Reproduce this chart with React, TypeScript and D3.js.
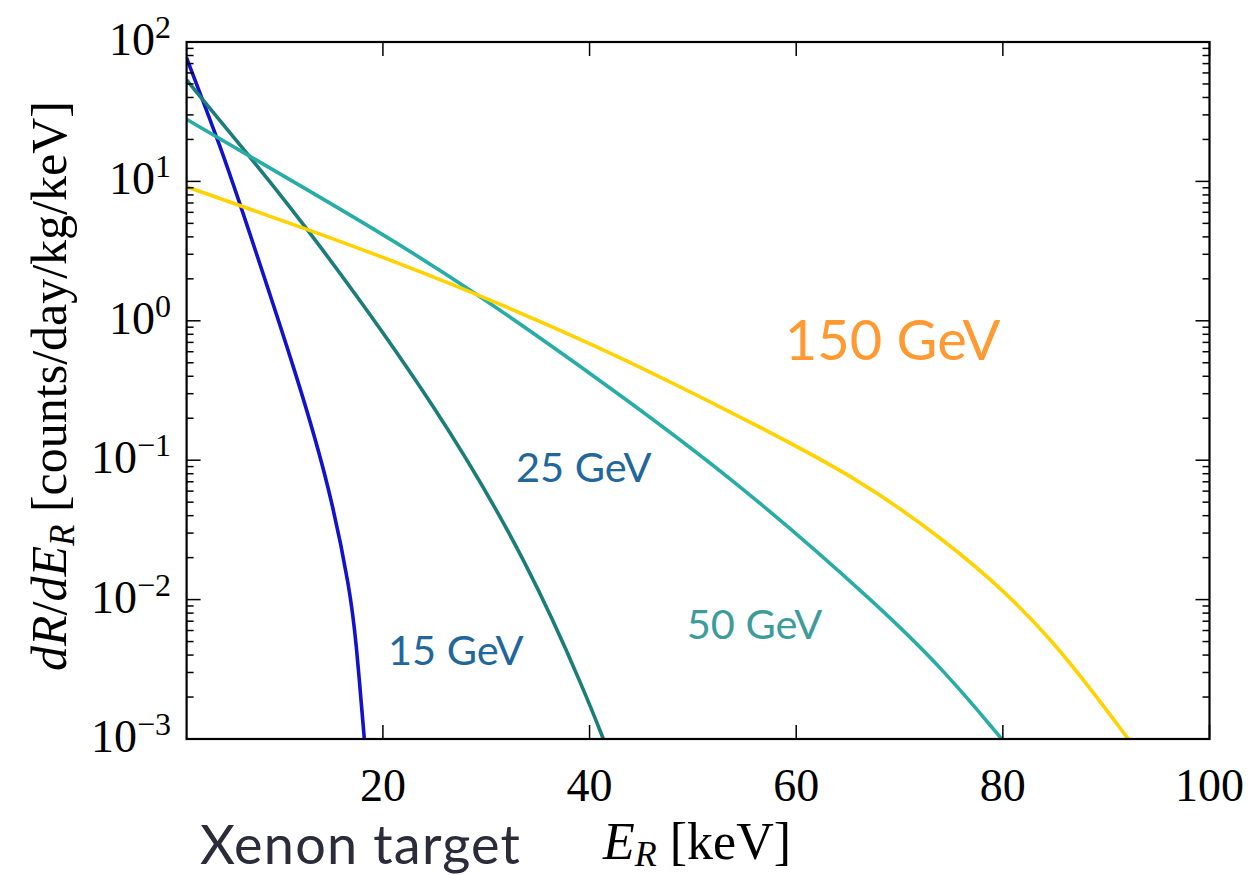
import React from "react";
import * as d3 from "d3";

// Differential recoil rate on a xenon target, one curve per WIMP mass.
const energy15 = [1, 4.4, 6.27, 11.98, 14.88, 16.82, 17.4, 18.2];
const rate15 = [76.8, 16.8, 6.55, 0.346, 0.0611, 0.0117, 0.00513, 0.001];

const energy25 = [1, 7.14, 12.94, 25.53, 34.24, 39.75, 41.33];
const rate25 = [53.4, 14.96, 4.41, 0.2254, 0.01714, 0.002, 0.001];

const energy50 = [1, 7.14, 19.72, 29.08, 41.01, 53.91, 68.12, 74.57, 79.89];
const rate50 = [27.9, 15.09, 4.335, 1.575, 0.376, 0.0742, 0.00889, 0.00296, 0.001];

const energy150 = [1, 12.94, 25.53, 41.01, 53.91, 65.86, 74.57, 80.37, 84.88, 89.08, 92.14];
const rate150 = [9.16, 4.48, 2.018, 0.652, 0.217, 0.0758, 0.026, 0.01115, 0.00499, 0.00201, 0.001];

const seriesColors = ["#1212cc", "#1b7d79", "#27ada6", "#ffd200"];

const xTickValues = [20, 40, 60, 80, 100];
const yExponents = [2, 1, 0, -1, -2, -3];

const massLabels = [
  { text: "150 GeV", e: 58.9, v: 0.523, size: 56, color: "#ff9a33" },
  { text: "25 GeV", e: 32.87, v: 0.0698, size: 41.5, color: "#21679b" },
  { text: "15 GeV", e: 20.49, v: 0.0034, size: 41.5, color: "#21679b" },
  { text: "50 GeV", e: 49.4, v: 0.0052, size: 41.5, color: "#3d9c9b" },
];

export default function App() {
  const W = 1250;
  const H = 875;
  const x = d3.scaleLinear().domain([1, 100]).range([186.6, 1209.5]);
  const y = d3.scaleLog().domain([1e-3, 1e2]).range([739, 42]);
  const [x0, x1] = x.range();
  const [y0, y1] = y.range();

  const series = [
    { e: energy15, r: rate15 },
    { e: energy25, r: rate25 },
    { e: energy50, r: rate50 },
    { e: energy150, r: rate150 },
  ].map((s, i) => ({
    points: s.e.map((e, j) => [e, s.r[j]] as [number, number]),
    color: seriesColors[i],
  }));

  const line = d3
    .line<[number, number]>()
    .x((d) => x(d[0]))
    .y((d) => y(d[1]))
    .curve(d3.curveBasis);

  const minorValues: number[] = [];
  for (let d = -3; d < 2; d++) {
    for (let k = 2; k <= 9; k++) minorValues.push(k * Math.pow(10, d));
  }

  const serif = "'Liberation Serif', 'DejaVu Serif', serif";
  const sans = "Lato, 'Open Sans', sans-serif";
  const majorLen = 14;
  const minorLen = 7;

  return (
    <svg
      width={W}
      height={H}
      viewBox={`0 0 ${W} ${H}`}
      style={{ position: "absolute", left: 0, top: 0, background: "#fff" }}
    >
      <defs>
        <clipPath id="plot-area">
          <rect x={x0} y={y1} width={x1 - x0} height={y0 - y1} />
        </clipPath>
      </defs>

      <g clipPath="url(#plot-area)">
        {series.map((s, i) => (
          <path
            key={i}
            d={line(s.points) || ""}
            fill="none"
            stroke={s.color}
            strokeWidth={3.6}
            strokeLinejoin="round"
          />
        ))}
      </g>

      {/* ticks on all four sides, pointing inward */}
      <g stroke="#000" strokeWidth={1.5}>
        {yExponents.map((p) => {
          const yy = y(Math.pow(10, p));
          return (
            <g key={p}>
              <line x1={x0} x2={x0 + majorLen} y1={yy} y2={yy} />
              <line x1={x1} x2={x1 - majorLen} y1={yy} y2={yy} />
            </g>
          );
        })}
        {minorValues.map((v, i) => {
          const yy = y(v);
          return (
            <g key={i}>
              <line x1={x0} x2={x0 + minorLen} y1={yy} y2={yy} />
              <line x1={x1} x2={x1 - minorLen} y1={yy} y2={yy} />
            </g>
          );
        })}
        {xTickValues.map((t) => {
          const xx = x(t);
          return (
            <g key={t}>
              <line x1={xx} x2={xx} y1={y0} y2={y0 - majorLen} />
              <line x1={xx} x2={xx} y1={y1} y2={y1 + majorLen} />
            </g>
          );
        })}
      </g>

      <rect
        x={x0}
        y={y1}
        width={x1 - x0}
        height={y0 - y1}
        fill="none"
        stroke="#000"
        strokeWidth={2.2}
      />

      {/* tick labels */}
      <g fontFamily={serif} fill="#000">
        {yExponents.map((p) => (
          <text key={p} x={171} y={y(Math.pow(10, p)) + 13} textAnchor="end" fontSize={46}>
            10
            <tspan dy={-17} fontSize={32}>
              {p < 0 ? `\u2212${-p}` : `${p}`}
            </tspan>
          </text>
        ))}
        {xTickValues.map((t) => (
          <text key={t} x={x(t)} y={801} textAnchor="middle" fontSize={46}>
            {t}
          </text>
        ))}
      </g>

      {/* axis titles */}
      <text
        fontFamily={serif}
        fontSize={50}
        fill="#000"
        textAnchor="middle"
        transform={`translate(66, 386) rotate(-90)`}
      >
        <tspan fontStyle="italic">dR</tspan>
        <tspan>/</tspan>
        <tspan fontStyle="italic">dE</tspan>
        <tspan fontStyle="italic" fontSize={35} dy={8}>
          R
        </tspan>
        <tspan dy={-8}> [counts/day/kg/keV]</tspan>
      </text>

      <text fontFamily={serif} fontSize={52} fill="#000" x={697} y={859} textAnchor="middle">
        <tspan fontStyle="italic">E</tspan>
        <tspan fontStyle="italic" fontSize={36} dy={7}>
          R
        </tspan>
        <tspan dy={-7}> [keV]</tspan>
      </text>

      <text fontFamily={sans} fontSize={54} letterSpacing={1.2} fill="#2b2b3a" x={200} y={864}>
        Xenon target
      </text>

      {massLabels.map((l) => (
        <text
          key={l.text}
          fontFamily={sans}
          fontSize={l.size}
          fill={l.color}
          x={x(l.e)}
          y={y(l.v)}
        >
          {l.text}
        </text>
      ))}
    </svg>
  );
}
